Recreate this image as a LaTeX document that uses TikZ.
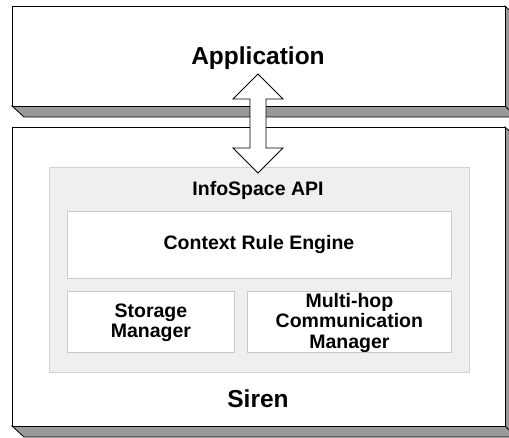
\documentclass[tikz,border=0pt]{standalone}
\usepackage{fontspec}
\setmainfont{Liberation Sans}
\definecolor{shadowgray}{HTML}{999999}
\definecolor{panelfill}{HTML}{EFEFEF}
\definecolor{panelline}{HTML}{D2D2D2}
\definecolor{boxline}{HTML}{C8C8C8}
\begin{document}
\begin{tikzpicture}[x=1pt,y=-1pt,
  front/.style={draw=black,line width=0.8pt,fill=white,inner sep=0pt,anchor=north west},
  shade/.style={draw=black,line width=0.8pt,fill=shadowgray,line join=miter},
  panel/.style={draw=panelline,line width=0.8pt,fill=panelfill,inner sep=0pt,anchor=north west},
  inbox/.style={draw=boxline,line width=0.8pt,fill=white,inner sep=0pt,anchor=north west},
  bigtxt/.style={font=\fontsize{24.5}{27}\selectfont\bfseries,inner sep=0pt,anchor=base},
  smalltxt/.style={font=\fontsize{19.5}{20.7}\selectfont\bfseries,inner sep=0pt,align=center},
  blockarrow/.style={draw=black,line width=0.8pt,fill=white,line join=miter}]
\useasboundingbox (0,0) rectangle (509,438);
\clip (0,0) rectangle (509,438);
% Application box with 3D shadow
\path[shade] (12,106) -- (24,117) -- (517,117) -- (505,106) -- cycle;
\path[shade] (505,6) -- (517,17) -- (517,117) -- (505,106) -- cycle;
\node[front,minimum width=493pt,minimum height=100pt] (app) at (12,6) {};
\node[bigtxt] (apptxt) at (258,65) {Application};
% Siren box with 3D shadow
\path[shade] (12,426) -- (24,437) -- (517,437) -- (505,426) -- cycle;
\path[shade] (505,127) -- (517,138) -- (517,437) -- (505,426) -- cycle;
\node[front,minimum width=493pt,minimum height=299pt] (siren) at (12,127) {};
\node[bigtxt] (sirentxt) at (258,408) {Siren};
% InfoSpace API panel
\node[panel,minimum width=420pt,minimum height=205pt] (api) at (49,167) {};
\node[smalltxt,anchor=base] (apitxt) at (258,196) {InfoSpace API};
% inner boxes
\node[inbox,minimum width=384pt,minimum height=67pt] (cre) at (67,211) {};
\node[smalltxt,anchor=base] (cretxt) at (259,250) {Context Rule Engine};
\node[inbox,minimum width=167pt,minimum height=61pt] (sm) at (67,291) {};
\node[smalltxt] (smtxt) at ([yshift=-1pt]sm.center) {Storage\\Manager};
\node[inbox,minimum width=204pt,minimum height=61pt] (mh) at (247,291) {};
\node[smalltxt] (mhtxt) at ([yshift=-1pt]mh.center) {Multi-hop\\Communication\\Manager};
% double block arrow between Application and Siren
\path[blockarrow] (258,74) -- (283,99) -- (266,99) -- (266,148) -- (283,148) -- (258,173)
  -- (233,148) -- (250,148) -- (250,99) -- (233,99) -- cycle;
\end{tikzpicture}
\end{document}
